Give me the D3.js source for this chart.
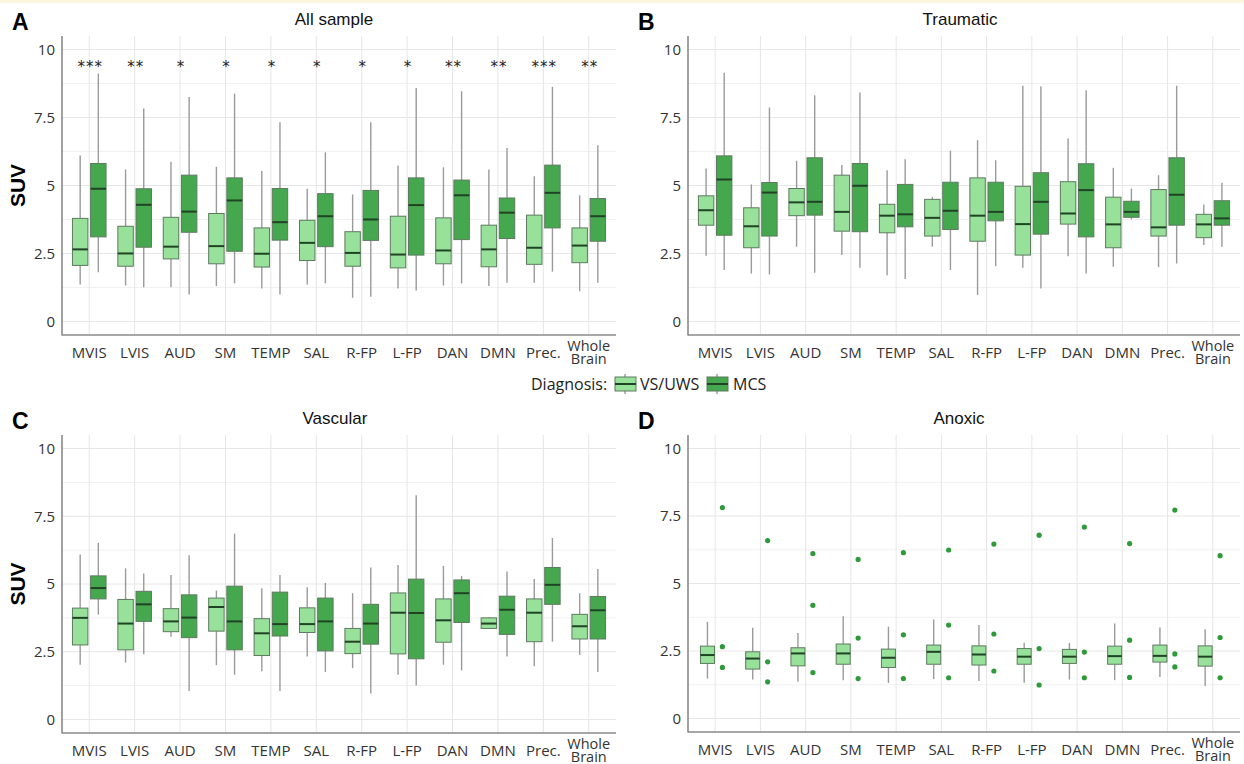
<!DOCTYPE html>
<html>
<head>
<meta charset="utf-8">
<script src="https://cdn.jsdelivr.net/npm/d3@7"></script>
<style>
  body { margin: 0; background: #fff; }
  svg { display: block; }
</style>
</head>
<body>
<svg width="1244" height="764"></svg>
<script>
const svg = d3.select("svg");

// categories / ticks
const categories = ["MVIS", "LVIS", "AUD", "SM", "TEMP", "SAL", "R-FP", "L-FP", "DAN", "DMN", "Prec.", "Whole Brain"];
const yTicks = [0, 2.5, 5, 7.5, 10];
const yTickLabels = ["0", "2.5", "5", "7.5", "10"];
const yMinor = [1.25, 3.75, 6.25, 8.75];
const groups = ["VS/UWS", "MCS"];

// [lower whisker, q1, median, q3, upper whisker]
const allVS = [
  [1.36, 2.06, 2.65, 3.79, 6.10], [1.32, 2.03, 2.50, 3.50, 5.59], [1.26, 2.30, 2.75, 3.83, 5.87],
  [1.30, 2.12, 2.77, 3.97, 5.69], [1.21, 2.00, 2.49, 3.44, 5.53], [1.36, 2.24, 2.89, 3.72, 4.88],
  [0.87, 2.03, 2.52, 3.30, 4.67], [1.21, 1.97, 2.46, 3.87, 5.74], [1.32, 2.12, 2.61, 3.81, 5.67],
  [1.30, 2.01, 2.65, 3.54, 5.59], [1.42, 2.10, 2.71, 3.91, 5.34], [1.11, 2.16, 2.79, 3.44, 4.64]
];
const allMCS = [
  [1.81, 3.11, 4.88, 5.81, 9.12], [1.26, 2.73, 4.29, 4.88, 7.83], [0.99, 3.28, 4.04, 5.38, 8.26],
  [1.40, 2.58, 4.45, 5.28, 8.38], [0.99, 2.99, 3.65, 4.89, 7.33], [1.40, 2.75, 3.87, 4.70, 6.22],
  [0.91, 2.98, 3.75, 4.82, 7.33], [1.14, 2.44, 4.28, 5.28, 8.59], [1.40, 3.01, 4.64, 5.20, 8.47],
  [1.42, 3.05, 4.00, 4.54, 6.38], [1.83, 3.44, 4.73, 5.75, 8.63], [1.42, 2.95, 3.87, 4.52, 6.48]
];
const allStars = ["***", "**", "*", "*", "*", "*", "*", "*", "**", "**", "***", "**"];

const traumaVS = [
  [2.42, 3.54, 4.09, 4.62, 5.63], [1.76, 2.71, 3.50, 4.18, 5.04], [2.75, 3.89, 4.38, 4.89, 5.91],
  [2.44, 3.32, 4.03, 5.38, 5.75], [1.70, 3.26, 3.89, 4.31, 5.56], [2.75, 3.14, 3.81, 4.49, 4.58],
  [0.97, 2.95, 3.89, 5.28, 6.67], [1.97, 2.44, 3.58, 4.97, 8.67], [2.40, 3.58, 3.97, 5.14, 6.73],
  [2.01, 2.71, 3.57, 4.57, 5.65], [2.00, 3.14, 3.46, 4.85, 5.38], [2.81, 3.08, 3.57, 3.94, 4.30]
];
const traumaMCS = [
  [1.89, 3.17, 5.22, 6.09, 9.15], [1.73, 3.14, 4.74, 5.11, 7.87], [1.79, 3.91, 4.40, 6.02, 8.32],
  [1.97, 3.30, 4.99, 5.81, 8.42], [1.56, 3.48, 3.94, 5.04, 5.97], [1.89, 3.38, 4.07, 5.12, 6.28],
  [2.03, 3.70, 4.03, 5.12, 5.93], [1.21, 3.21, 4.40, 5.47, 8.65], [1.76, 3.11, 4.83, 5.80, 8.50],
  [3.75, 3.83, 4.03, 4.42, 4.89], [2.13, 3.54, 4.66, 6.02, 8.67], [2.75, 3.54, 3.79, 4.44, 5.10]
];

const vascVS = [
  [2.02, 2.75, 3.75, 4.11, 6.09], [2.10, 2.57, 3.54, 4.43, 5.58], [3.05, 3.24, 3.62, 4.09, 5.33],
  [2.00, 3.26, 4.15, 4.48, 4.76], [1.78, 2.36, 3.18, 3.72, 4.84], [2.32, 3.21, 3.52, 4.12, 4.88],
  [1.90, 2.43, 2.87, 3.36, 4.66], [1.65, 2.42, 3.94, 4.67, 5.70], [2.02, 2.85, 3.66, 4.45, 5.67],
  [3.36, 3.36, 3.54, 3.75, 3.78], [1.96, 2.87, 3.94, 4.45, 5.18], [2.38, 2.97, 3.44, 3.88, 4.66]
];
const vascMCS = [
  [3.87, 4.45, 4.85, 5.30, 6.52], [2.41, 3.62, 4.25, 4.73, 5.39], [1.05, 3.02, 3.76, 4.60, 6.06],
  [1.65, 2.57, 3.62, 4.92, 6.86], [1.05, 3.08, 3.52, 4.70, 5.33], [1.75, 2.53, 3.62, 4.48, 5.04],
  [0.96, 2.78, 3.54, 4.25, 5.61], [1.25, 2.24, 3.93, 5.18, 8.28], [1.81, 3.58, 4.66, 5.15, 5.30],
  [2.32, 3.14, 4.05, 4.55, 5.46], [2.87, 4.25, 4.97, 5.61, 6.70], [1.75, 2.97, 4.03, 4.54, 5.55]
];

const anoxVS = [
  [1.48, 2.04, 2.35, 2.68, 3.58], [1.44, 1.83, 2.22, 2.47, 3.36], [1.36, 1.95, 2.41, 2.62, 3.17],
  [1.42, 2.01, 2.41, 2.76, 3.79], [1.32, 1.89, 2.25, 2.57, 3.40], [1.46, 2.01, 2.47, 2.72, 3.67],
  [1.39, 1.98, 2.37, 2.69, 3.46], [1.32, 2.01, 2.29, 2.59, 2.81], [1.44, 2.04, 2.29, 2.56, 2.80],
  [1.42, 2.01, 2.31, 2.68, 3.52], [1.54, 2.09, 2.32, 2.72, 3.37], [1.20, 1.94, 2.29, 2.69, 3.31]
];
// anoxic MCS: individual patients only
const anoxMCSPoints = [
  [7.81, 2.66, 1.89], [6.59, 2.10, 1.36], [6.11, 4.19, 1.70], [5.89, 2.98, 1.48],
  [6.14, 3.10, 1.48], [6.24, 3.46, 1.51], [6.46, 3.13, 1.76], [6.79, 2.59, 1.24],
  [7.09, 2.46, 1.51], [6.48, 2.90, 1.52], [7.72, 2.39, 1.91], [6.03, 3.00, 1.51]
];

const color = d3.scaleOrdinal().domain(groups).range(["#98e19a", "#45a84f"]);
const tickFont = "'Open Sans', 'Noto Sans', sans-serif";
const titleFont = "'Liberation Sans', Arial, sans-serif";

// top strip
svg.append("rect").attr("x", 0).attr("y", 0).attr("width", 1244).attr("height", 3).attr("fill", "#fdf6df");

function drawPanel(p) {
  const g = svg.append("g");
  const x = d3.scalePoint().domain(categories).range([p.left, p.right]).padding(0.6);
  const y = d3.scaleLinear().domain([-0.5, 10.5]).range([p.bottom, p.top]);
  const step = x.step();
  const off = step * p.dodge, bw = step * p.boxW;

  // grid
  g.selectAll(".gmin").data(yMinor).join("line")
    .attr("x1", p.left).attr("x2", p.right).attr("y1", d => y(d)).attr("y2", d => y(d))
    .attr("stroke", "#f0f0f0").attr("stroke-width", 1);
  g.selectAll(".gmaj").data(yTicks).join("line")
    .attr("x1", p.left).attr("x2", p.right).attr("y1", d => y(d)).attr("y2", d => y(d))
    .attr("stroke", "#e6e6e6").attr("stroke-width", 1);
  g.selectAll(".gx").data(categories).join("line")
    .attr("x1", d => x(d)).attr("x2", d => x(d)).attr("y1", p.top).attr("y2", p.bottom)
    .attr("stroke", "#e6e6e6").attr("stroke-width", 1);

  // boxes
  const series = [{ key: "VS/UWS", data: p.vs, dx: -off }];
  if (p.mcs) series.push({ key: "MCS", data: p.mcs, dx: off });
  series.forEach(s => {
    const bg = g.append("g");
    s.data.forEach((d, i) => {
      const cx = x(categories[i]) + s.dx;
      bg.append("line").attr("x1", cx).attr("x2", cx).attr("y1", y(d[4])).attr("y2", y(d[3]))
        .attr("stroke", "#9a9a9a").attr("stroke-width", 1.4);
      bg.append("line").attr("x1", cx).attr("x2", cx).attr("y1", y(d[1])).attr("y2", y(d[0]))
        .attr("stroke", "#9a9a9a").attr("stroke-width", 1.4);
      bg.append("rect").attr("x", cx - bw / 2).attr("width", bw)
        .attr("y", y(d[3])).attr("height", Math.max(0.5, y(d[1]) - y(d[3])))
        .attr("fill", color(s.key)).attr("stroke", "#5d7a5f").attr("stroke-width", 1);
      bg.append("line").attr("x1", cx - bw / 2).attr("x2", cx + bw / 2).attr("y1", y(d[2])).attr("y2", y(d[2]))
        .attr("stroke", "#1f4324").attr("stroke-width", 2);
    });
  });

  if (p.points) {
    p.points.forEach((pts, i) => {
      g.selectAll(null).data(pts).join("circle")
        .attr("cx", x(categories[i]) + p.ptDx * step).attr("cy", d => y(d)).attr("r", 2.6)
        .attr("fill", "#2f9a3a");
    });
  }

  if (p.stars) {
    g.selectAll(".star").data(p.stars).join("text")
      .attr("x", (d, i) => x(categories[i]) + 1).attr("y", y(9.55) + 10)
      .attr("text-anchor", "middle").attr("font-family", "'DejaVu Sans', sans-serif").attr("font-size", 15)
      .attr("letter-spacing", 1).attr("fill", "#222").text(d => d);
  }

  // axes lines
  g.append("line").attr("x1", p.left).attr("x2", p.left).attr("y1", p.top).attr("y2", p.bottom + 0.5)
    .attr("stroke", "#8a8a8a").attr("stroke-width", 1.6);
  g.append("line").attr("x1", p.left).attr("x2", p.right).attr("y1", p.bottom).attr("y2", p.bottom)
    .attr("stroke", "#8a8a8a").attr("stroke-width", 1.6);

  // y tick labels
  g.selectAll(".yl").data(yTicks).join("text")
    .attr("x", p.left - 7).attr("y", d => y(d)).attr("dy", "0.35em")
    .attr("text-anchor", "end").attr("font-family", tickFont).attr("font-size", 15)
    .attr("fill", "#333").text((d, i) => yTickLabels[i]);

  // x tick labels
  const xl = g.selectAll(".xl").data(categories).join("text")
    .attr("x", d => x(d)).attr("y", p.bottom + 23)
    .attr("text-anchor", "middle").attr("font-family", tickFont).attr("font-size", 15)
    .attr("fill", "#333");
  xl.each(function (d) {
    const parts = d.split(" ");
    const t = d3.select(this);
    if (parts.length === 1) { t.text(d); return; }
    t.attr("font-size", 14.5);
    parts.forEach((w, k) => t.append("tspan").attr("x", x(d)).attr("dy", k === 0 ? "-0.5em" : "0.92em").text(w));
  });

  // title + panel letter
  svg.append("text").attr("x", p.titleX).attr("y", p.top - 11).attr("text-anchor", "middle")
    .attr("font-family", titleFont).attr("font-size", 17).attr("fill", "#111").text(p.title);
  svg.append("text").attr("x", p.left - 50).attr("y", p.top - 6)
    .attr("font-family", titleFont).attr("font-size", 23).attr("font-weight", "bold").attr("fill", "#000").text(p.letter);

  if (p.yLabel) {
    svg.append("text").attr("transform", `translate(${p.left - 37},${(p.top + p.bottom) / 2}) rotate(-90)`)
      .attr("text-anchor", "middle").attr("font-family", titleFont).attr("font-size", 21)
      .attr("font-weight", "bold").attr("fill", "#000").text("SUV");
  }
}

drawPanel({ letter: "A", title: "All sample", titleX: 334, left: 62, right: 616, top: 36, bottom: 335,
  vs: allVS, mcs: allMCS, stars: allStars, yLabel: true, dodge: 0.2, boxW: 0.34 });
drawPanel({ letter: "B", title: "Traumatic", titleX: 960, left: 688, right: 1240, top: 36, bottom: 335,
  vs: traumaVS, mcs: traumaMCS, dodge: 0.2, boxW: 0.34 });
drawPanel({ letter: "C", title: "Vascular", titleX: 335, left: 62, right: 616, top: 435, bottom: 733,
  vs: vascVS, mcs: vascMCS, yLabel: true, dodge: 0.2, boxW: 0.34 });
drawPanel({ letter: "D", title: "Anoxic", titleX: 959, left: 688, right: 1240, top: 435, bottom: 732,
  vs: anoxVS, points: anoxMCSPoints, ptDx: 0.16, dodge: 0.17, boxW: 0.31 });

// legend
const leg = svg.append("g").attr("transform", "translate(0,384)");
leg.append("text").attr("x", 531).attr("y", 0).attr("dy", "0.35em")
  .attr("font-family", tickFont).attr("font-size", 16).attr("fill", "#222").text("Diagnosis:");
const legItems = [{ key: "VS/UWS", x: 614, tx: 640 }, { key: "MCS", x: 706, tx: 733 }];
legItems.forEach(it => {
  const k = leg.append("g").attr("transform", `translate(${it.x},0)`);
  k.append("line").attr("x1", 11).attr("x2", 11).attr("y1", -10).attr("y2", 10).attr("stroke", "#9a9a9a").attr("stroke-width", 1.4);
  k.append("rect").attr("x", 1).attr("y", -7).attr("width", 21).attr("height", 14)
    .attr("fill", color(it.key)).attr("stroke", "#5d7a5f");
  k.append("line").attr("x1", 1).attr("x2", 22).attr("y1", 0).attr("y2", 0).attr("stroke", "#1f4324").attr("stroke-width", 2);
  leg.append("text").attr("x", it.tx).attr("y", 0).attr("dy", "0.35em")
    .attr("font-family", tickFont).attr("font-size", 16).attr("fill", "#222").text(it.key);
});
</script>
</body>
</html>
